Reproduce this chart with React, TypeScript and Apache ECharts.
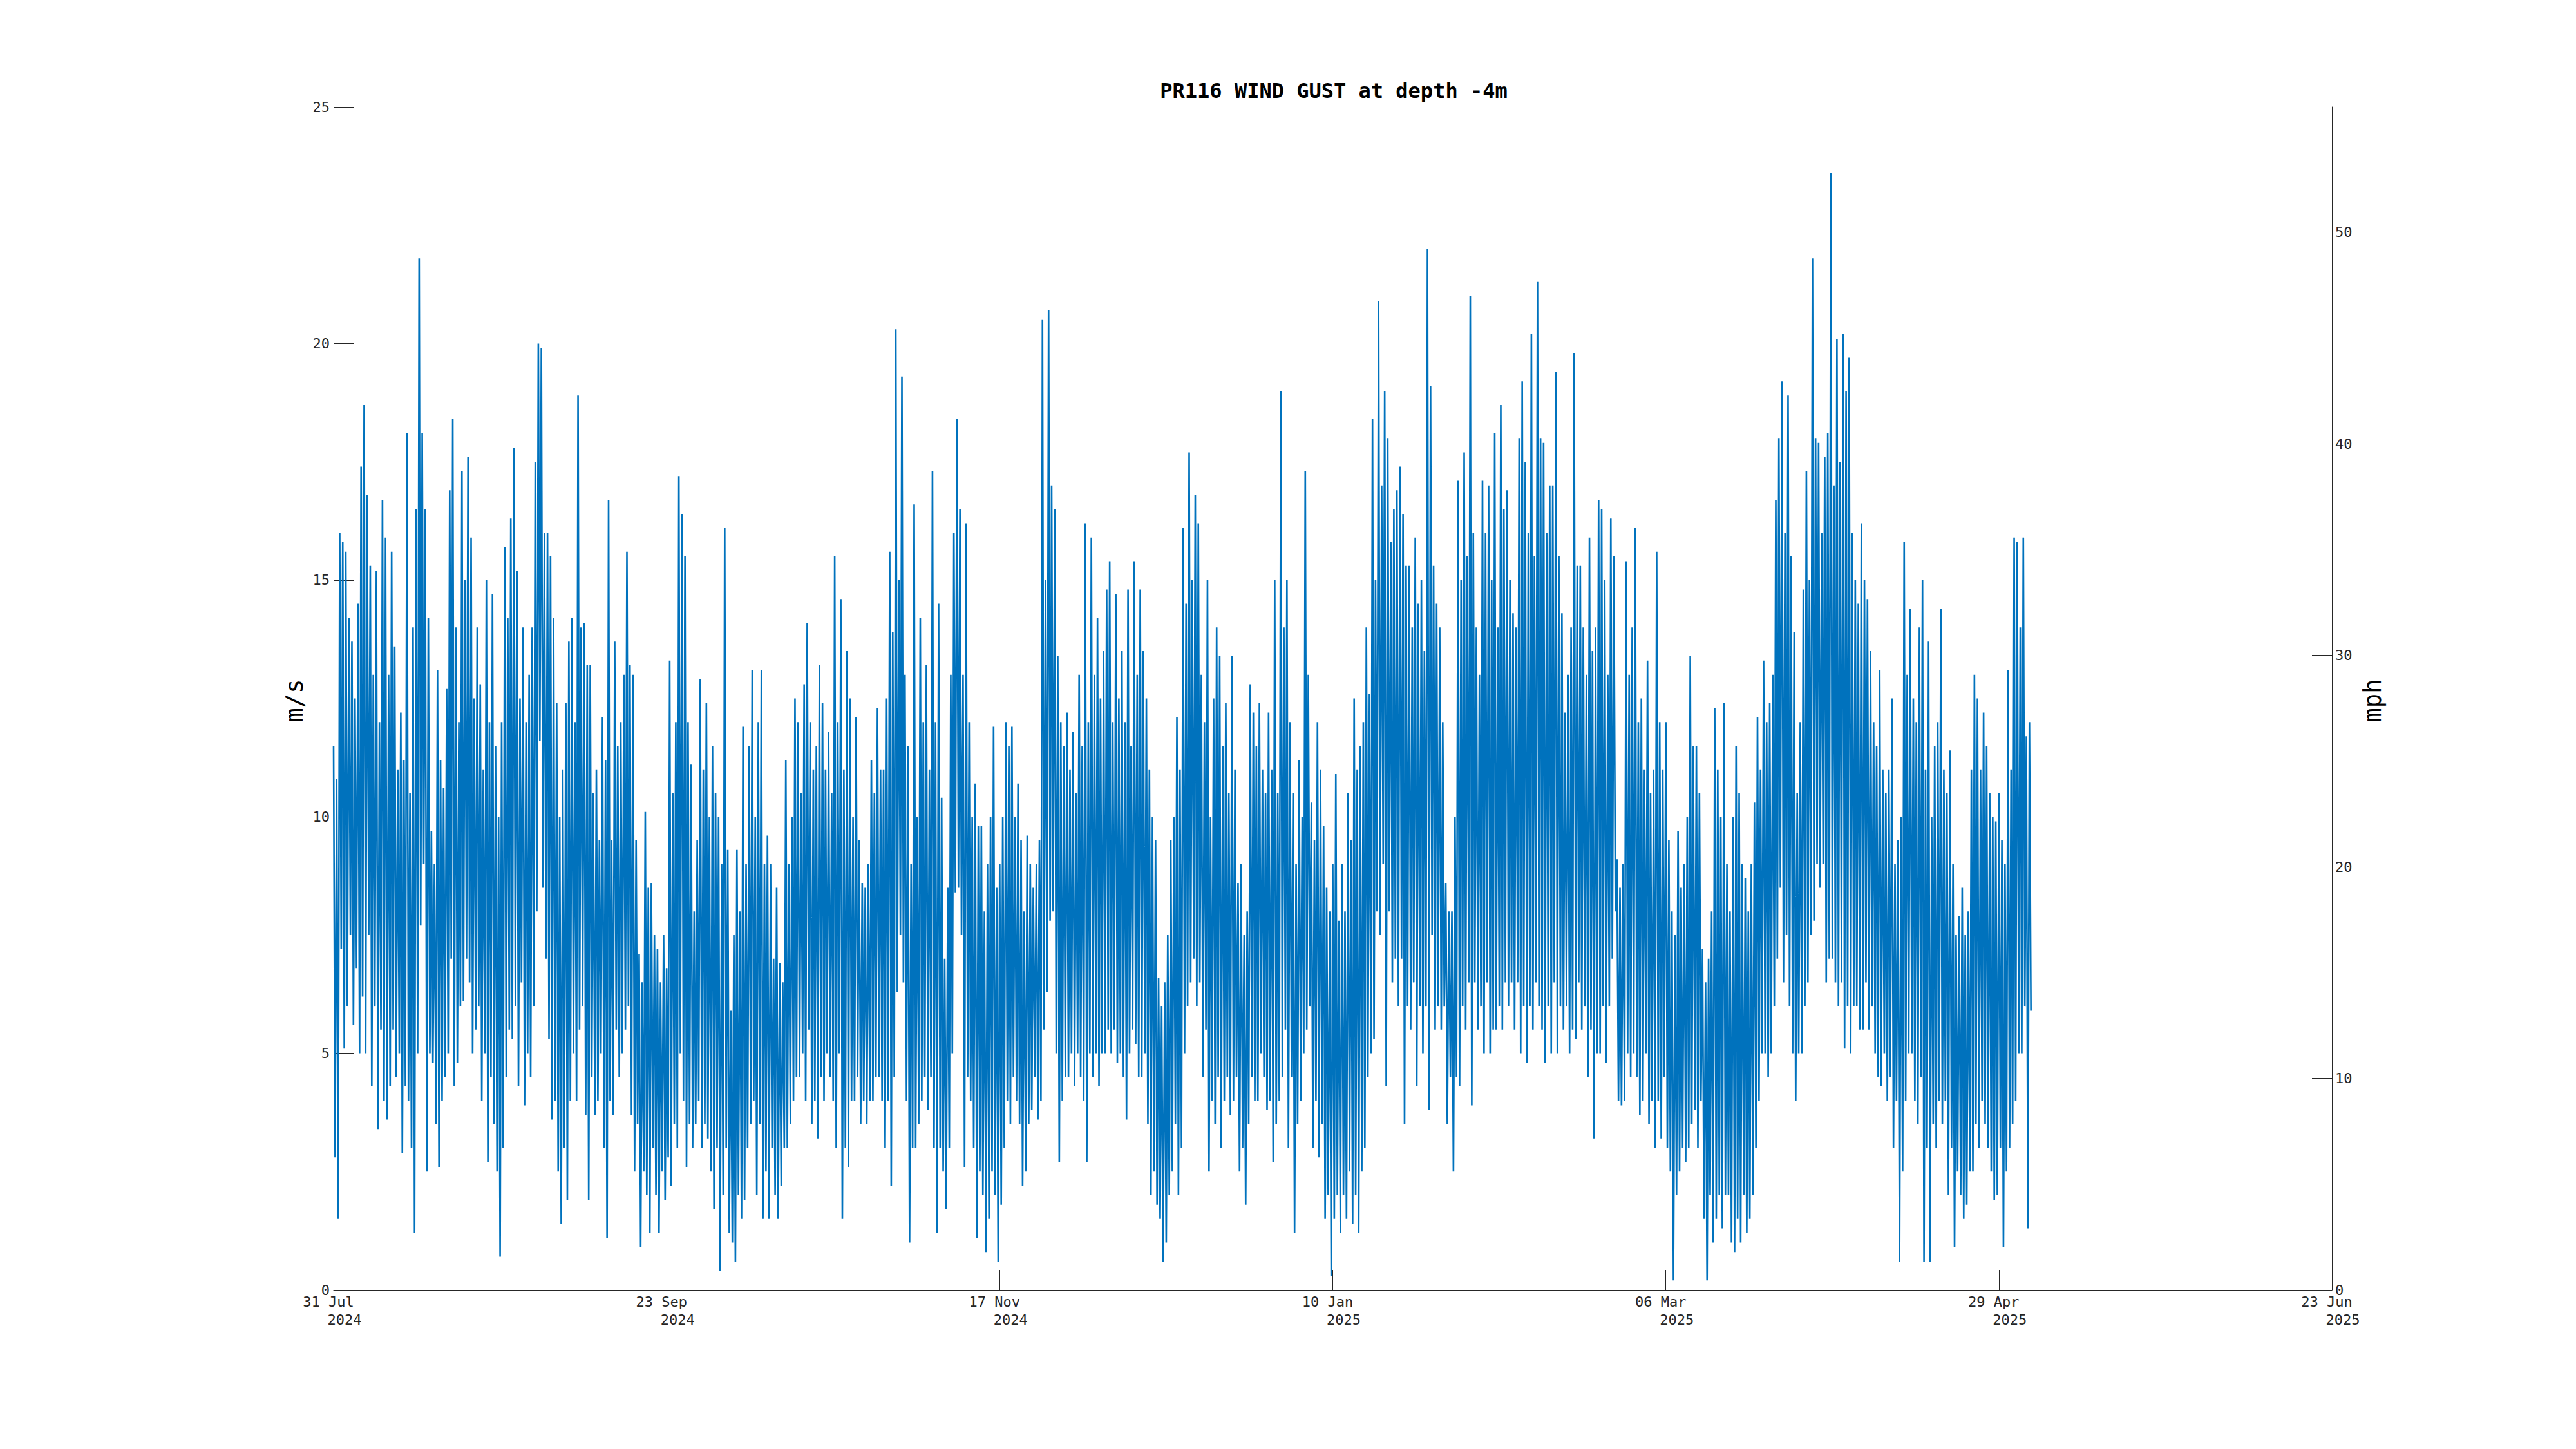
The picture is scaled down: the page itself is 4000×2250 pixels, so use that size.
import React, { useEffect, useRef } from 'react';
import * as echarts from 'echarts';

const FONT = '"DejaVu Sans Mono", monospace';
const AXIS_COLOR = '#262626';
const LINE_COLOR = '#0072BD';

const TITLE = 'PR116 WIND GUST at depth -4m';
const LEFT_NAME = 'm/s';
const RIGHT_NAME = 'mph';

// x axis: days since 31 Jul 2024
const tickDays = [0, 54.5, 109, 163.5, 218, 272.5, 327];
const tickDayMonth = ['31 Jul', '23 Sep', '17 Nov', '10 Jan', '06 Mar', '29 Apr', '23 Jun'];
const tickYear = ['2024', '2024', '2024', '2025', '2025', '2025', '2025'];
const msTicks = [0, 5, 10, 15, 20, 25];
const mphTicks = [0, 10, 20, 30, 40, 50];
const MS_TO_MPH = 2.23694;
const STEP_DAYS = 0.25; // one reading every 6 hours

// wind gust, m/s (4 readings per day)
const gustSeg1 = [
  11.5, 2.8, 10.8, 1.5, 16.0, 7.2, 15.8, 5.1, 15.6, 6.0, 14.2, 7.5, 13.7, 5.6, 12.5, 6.8,
  14.5, 5.0, 17.4, 6.2, 18.7, 5.0, 16.8, 7.5, 15.3, 4.3, 13.0, 6.0, 15.2, 3.4, 12.0, 5.5,
  16.7, 4.0, 15.9, 3.6, 13.0, 4.3, 15.6, 5.5, 13.6, 4.5, 11.0, 5.0, 12.2, 2.9, 11.2, 4.3,
  18.1, 4.0, 10.5, 3.0, 14.0, 1.2, 16.5, 5.0, 21.8, 7.7, 18.1, 9.0, 16.5, 2.5, 14.2, 5.0,
  9.7, 4.8, 9.0, 3.5, 13.1, 2.6, 11.2, 4.0, 10.6, 4.5, 12.7, 5.0, 16.9, 7.0, 18.4, 4.3,
  14.0, 4.8, 12.0, 6.0, 17.3, 6.1, 15.0, 7.0, 17.6, 6.5, 15.9, 5.0, 12.5, 5.5, 14.0, 6.0,
  12.8, 4.0, 11.0, 5.0, 15.0, 2.7, 12.0, 4.5, 14.7, 3.5, 11.5, 2.5, 10.0, 0.7, 12.0, 3.0,
  15.7, 4.5, 14.2, 5.5, 16.3, 5.3, 17.8, 6.0, 15.2, 4.3, 12.5, 6.5, 14.0, 3.9, 12.0, 5.0,
  13.0, 4.5, 14.0, 6.0, 17.5, 8.0, 20.0, 11.6, 19.9, 8.5, 16.0, 7.0,
];
const gustSeg2 = [
  16.0, 5.3, 15.5, 3.6, 14.2, 4.0, 12.4, 2.5, 10.0, 1.4, 11.0, 3.0, 12.4, 1.9, 13.7, 4.0,
  14.2, 5.0, 12.0, 4.0, 18.9, 5.5, 14.0, 6.0, 14.1, 3.7, 13.2, 1.9, 13.2, 4.5, 10.5, 3.7,
  11.0, 4.0, 9.5, 5.0, 12.1, 3.0, 11.2, 1.1, 16.7, 4.0, 9.5, 3.7, 13.7, 5.5, 11.5, 4.5,
  12.0, 5.0, 13.0, 5.5, 15.6, 6.0, 13.2, 3.7, 13.0, 2.5, 9.5, 3.5, 7.1, 0.9, 6.5, 2.5,
  10.1, 2.0, 8.5, 1.2, 8.6, 3.0, 7.5, 2.0, 7.2, 1.2, 6.5, 2.5, 7.5, 1.9, 6.8, 2.8,
  13.3, 2.2, 10.5, 3.5, 12.0, 3.0, 17.2, 5.0, 16.4, 4.0, 15.5, 2.6, 12.0, 3.5, 11.1, 3.0,
  8.0, 3.5, 9.5, 4.0, 12.9, 3.0, 11.0, 3.5, 12.4, 3.2, 10.0, 2.5, 11.5, 1.7, 10.5, 3.0,
  10.0, 0.4, 9.0, 2.0, 16.1, 3.0, 9.3, 1.2, 5.9, 1.0, 7.5, 0.6, 9.3, 2.0, 8.0, 1.5,
  11.9, 1.9, 9.0, 3.0, 11.5, 3.5, 13.1, 4.0, 10.0, 2.0, 12.0, 3.5,
];
const gustSeg3 = [
  13.1, 1.5, 9.0, 2.5, 9.6, 1.5, 9.0, 3.0, 7.0, 2.0, 8.5, 1.5, 6.9, 2.2, 6.5, 3.0,
  11.2, 3.0, 9.0, 3.5, 10.0, 4.0, 12.5, 4.5, 12.0, 4.5, 10.5, 5.0, 12.8, 4.0, 14.1, 5.5,
  12.0, 3.5, 11.0, 4.0, 11.5, 3.2, 13.2, 4.5, 12.4, 4.0, 11.0, 5.0, 11.8, 4.5, 10.5, 4.0,
  15.5, 3.0, 12.0, 5.0, 14.6, 1.5, 11.0, 3.0, 13.5, 2.6, 12.5, 4.0, 10.0, 4.0, 12.1, 4.5,
  9.5, 3.5, 8.6, 4.0, 8.5, 3.5, 9.0, 4.0, 11.2, 4.0, 10.5, 4.5, 12.3, 4.5, 11.0, 4.0,
  11.0, 3.0, 12.5, 4.0, 15.6, 2.2, 13.9, 4.5, 20.3, 6.3, 15.0, 7.5, 19.3, 6.5, 13.0, 4.0,
  11.5, 1.0, 9.0, 3.0, 16.6, 3.0, 10.0, 3.5, 14.2, 4.0, 12.0, 4.5, 13.2, 3.8, 11.0, 4.5,
  17.3, 3.0, 12.0, 1.2, 14.5, 3.0, 10.4, 2.5, 7.0, 1.7, 8.5, 3.0, 13.0, 5.0, 16.0, 8.4,
  18.4, 8.5, 16.5, 7.5, 13.0, 2.6, 16.2, 4.5, 12.0, 4.0, 10.0, 3.0,
];
const gustSeg4 = [
  10.7, 1.1, 9.8, 2.5, 9.8, 2.0, 8.0, 0.8, 9.0, 1.5, 10.0, 2.5, 11.9, 2.0, 8.5, 0.6,
  9.0, 1.8, 10.0, 3.0, 12.0, 4.0, 11.5, 3.5, 11.9, 4.5, 10.0, 4.0, 10.7, 3.5, 9.5, 2.2,
  8.0, 2.5, 9.6, 3.5, 9.0, 3.8, 8.5, 4.5, 9.0, 3.6, 9.5, 4.0, 20.5, 5.5, 15.0, 6.3,
  20.7, 7.8, 17.0, 8.0, 16.5, 5.0, 13.4, 2.7, 12.0, 4.0, 11.5, 4.5, 12.2, 4.5, 11.0, 5.0,
  11.8, 4.3, 10.5, 5.0, 13.0, 4.5, 11.5, 4.0, 16.2, 2.7, 12.0, 5.0, 15.9, 4.5, 13.0, 5.0,
  14.2, 4.3, 12.5, 5.0, 13.5, 5.0, 14.8, 5.5, 15.4, 5.0, 12.0, 5.5, 14.7, 4.8, 12.5, 5.0,
  13.5, 4.5, 12.0, 3.6, 14.8, 5.0, 11.5, 5.5, 15.4, 5.2, 13.0, 4.5, 14.8, 4.5, 13.5, 5.0,
  12.5, 3.5, 11.0, 2.0, 10.0, 2.5, 9.5, 1.8, 6.6, 1.5, 6.0, 0.6, 6.5, 1.0, 7.5, 2.0,
  9.5, 2.5, 10.0, 3.5, 12.1, 2.0, 11.0, 3.0,
];
const gustSeg5 = [
  16.1, 5.0, 14.5, 6.0, 17.7, 6.5, 15.0, 7.0, 16.8, 6.0, 16.2, 6.5, 13.0, 4.5, 12.0, 5.5,
  15.0, 2.5, 10.0, 4.0, 12.5, 3.5, 14.0, 4.5, 13.4, 3.0, 11.5, 4.0, 12.4, 4.5, 10.5, 3.7,
  13.4, 4.0, 11.0, 4.5, 8.6, 2.5, 9.0, 3.0, 7.5, 1.8, 8.0, 3.5, 12.8, 4.5, 12.2, 4.0,
  11.5, 4.0, 12.4, 5.0, 11.0, 4.5, 10.5, 3.8, 12.2, 4.0, 11.0, 2.7, 15.0, 3.5, 10.5, 4.0,
  19.0, 4.5, 14.0, 5.5, 15.0, 3.0, 12.0, 4.5, 10.5, 1.2, 9.0, 3.5, 11.2, 4.0, 10.0, 5.0,
  17.3, 5.5, 13.0, 6.0, 10.3, 3.0, 9.5, 4.0, 12.0, 2.8, 11.0, 3.5, 9.8, 1.5, 8.5, 2.0,
  8.0, 0.3, 9.0, 1.5, 10.9, 2.0, 7.8, 1.2, 9.0, 2.0, 8.0, 1.5, 10.5, 2.5, 9.5, 1.4,
  12.5, 2.0, 11.0, 1.2, 11.5, 2.5, 12.0, 3.0, 14.0, 4.5, 12.6, 5.0, 18.4, 5.3, 15.0, 8.0,
  20.9, 7.5, 17.0, 9.0, 19.0, 4.3, 18.0, 8.0, 15.8, 6.5, 16.5, 7.0,
];
const gustSeg6 = [
  16.9, 6.0, 17.4, 7.0, 16.4, 3.5, 15.3, 6.0, 15.3, 5.5, 14.0, 6.5, 15.9, 4.3, 14.5, 6.0,
  15.0, 5.0, 13.5, 6.0, 22.0, 3.8, 19.1, 7.5, 15.3, 5.5, 14.5, 6.0, 14.0, 5.5, 12.0, 6.0,
  8.6, 3.5, 8.0, 4.5, 8.0, 2.5, 10.0, 4.5, 17.1, 4.3, 15.0, 6.0, 17.7, 5.5, 15.5, 6.5,
  21.0, 3.9, 16.0, 6.5, 14.0, 5.5, 13.0, 6.0, 17.1, 5.0, 16.0, 6.5, 17.0, 5.0, 15.0, 5.5,
  18.1, 5.5, 14.0, 6.0, 18.7, 5.5, 16.5, 6.5, 16.9, 6.0, 15.0, 6.5, 14.3, 5.5, 14.0, 6.5,
  18.0, 5.0, 19.2, 6.0, 17.5, 4.8, 16.0, 6.0, 20.2, 5.5, 15.5, 6.5, 21.3, 6.0, 18.0, 5.5,
  17.9, 4.8, 16.0, 6.0, 17.0, 5.0, 17.0, 6.5, 19.4, 5.0, 15.5, 6.0, 14.3, 5.5, 12.2, 6.0,
  13.0, 5.0, 14.0, 5.5, 19.8, 5.3, 15.3, 6.5, 15.3, 5.5, 14.0, 6.0, 13.0, 4.5, 15.9, 5.5,
  13.5, 3.2, 14.0, 5.0, 16.7, 5.0, 16.5, 6.0, 15.0, 4.8, 13.0, 6.0,
];
const gustSeg7 = [
  16.3, 7.0, 15.5, 8.0, 9.1, 4.0, 8.5, 3.9, 9.0, 4.0, 15.4, 5.0, 13.0, 4.5, 14.0, 5.0,
  16.1, 4.5, 12.0, 3.7, 12.5, 4.0, 11.0, 5.0, 13.3, 3.5, 10.5, 4.0, 11.0, 3.0, 15.6, 4.0,
  12.0, 3.2, 11.0, 4.5, 12.0, 3.0, 9.5, 2.5, 8.0, 0.2, 7.5, 2.0, 9.7, 2.5, 8.5, 3.0,
  9.0, 2.7, 10.0, 3.0, 13.4, 3.5, 11.5, 3.8, 11.5, 3.0, 10.5, 4.0, 7.2, 1.5, 6.5, 0.2,
  7.0, 2.0, 8.0, 1.0, 12.3, 1.5, 11.0, 2.0, 10.0, 1.3, 12.4, 2.0, 9.0, 2.0, 8.0, 1.0,
  10.0, 0.8, 11.5, 1.5, 10.5, 1.0, 9.0, 2.0, 8.7, 1.2, 8.0, 1.5, 9.0, 2.0, 10.3, 3.0,
  12.1, 4.0, 11.0, 5.0, 13.3, 5.0, 12.0, 4.5, 12.4, 5.0, 13.0, 6.0, 16.7, 7.0, 18.0, 8.5,
  19.2, 6.5, 16.0, 7.5, 18.9, 6.0, 15.5, 5.0, 13.9, 4.0, 10.5, 5.0, 12.0, 5.0, 14.8, 6.0,
  17.3, 6.5, 15.0, 7.5, 21.8, 7.8, 18.0, 9.0, 17.9, 8.5, 16.0, 9.0,
];
const gustSeg8 = [
  17.6, 6.5, 18.1, 7.0, 23.6, 7.0, 17.0, 6.5, 20.1, 6.0, 17.5, 6.5, 20.2, 5.1, 19.0, 6.0,
  19.7, 5.0, 16.0, 6.0, 15.0, 6.0, 14.5, 5.5, 16.2, 5.5, 15.0, 6.5, 14.6, 5.5, 13.5, 6.0,
  12.0, 5.0, 11.5, 4.5, 13.1, 4.3, 11.0, 5.0, 10.5, 4.0, 11.0, 4.5, 12.5, 3.0, 9.0, 4.0,
  9.5, 0.6, 10.0, 2.5, 15.8, 4.0, 13.0, 5.0, 14.4, 5.0, 12.5, 4.0, 12.0, 3.5, 14.0, 4.5,
  15.0, 0.6, 11.0, 3.0, 13.7, 0.6, 10.0, 3.5, 11.5, 3.0, 12.0, 4.0, 14.4, 3.5, 11.0, 4.0,
  10.5, 2.0, 11.4, 3.0, 9.0, 0.9, 7.5, 2.5, 7.9, 2.0, 8.5, 1.5, 7.5, 1.8, 8.0, 2.5,
  11.0, 2.5, 13.0, 3.5, 12.5, 3.0, 11.0, 4.0, 12.2, 3.5, 11.5, 3.0, 10.5, 2.5, 10.0, 1.9,
  9.9, 2.0, 10.5, 3.0, 9.5, 0.9, 9.0, 2.5, 13.1, 3.0, 11.0, 3.5, 15.9, 4.0, 15.8, 5.0,
  14.0, 5.0, 15.9, 6.0, 11.7, 1.3, 12.0, 5.9,
];

const gust = [
  ...gustSeg1, ...gustSeg2, ...gustSeg3, ...gustSeg4,
  ...gustSeg5, ...gustSeg6, ...gustSeg7, ...gustSeg8,
];

export default function App() {
  const ref = useRef<HTMLDivElement>(null);

  useEffect(() => {
    if (!ref.current) return;
    const chart = echarts.init(ref.current, undefined, { renderer: 'svg' });
    const data = gust.map((v, i) => [i * STEP_DAYS, v]);
    const labelBase = { fontFamily: FONT, fontSize: 22, color: AXIS_COLOR };

    chart.setOption({
      animation: false,
      backgroundColor: '#ffffff',
      grid: { left: 518, right: 379, top: 166, bottom: 247, containLabel: false },
      xAxis: {
        type: 'value',
        min: 0,
        max: 327,
        interval: 54.5,
        splitLine: { show: false },
        axisLine: { show: true, onZero: false, lineStyle: { color: AXIS_COLOR, width: 1 } },
        axisTick: {
          show: true,
          inside: true,
          length: 31,
          customValues: tickDays,
          lineStyle: { color: AXIS_COLOR, width: 1 },
        },
        axisLabel: {
          show: true,
          margin: 4,
          customValues: tickDays,
          formatter: (value: number) => {
            const i = tickDays.findIndex((t) => Math.abs(t - value) < 0.01);
            if (i < 0) return '';
            return `{d|${tickDayMonth[i]}}\n{y|${tickYear[i]}}`;
          },
          rich: {
            d: { ...labelBase, lineHeight: 28, padding: [0, 16, 0, 0] },
            y: { ...labelBase, lineHeight: 28, padding: [0, 0, 0, 34] },
          },
        },
      },
      yAxis: [
        {
          type: 'value',
          position: 'left',
          min: 0,
          max: 25,
          interval: 5,
          splitLine: { show: false },
          axisLine: { show: true, lineStyle: { color: AXIS_COLOR, width: 1 } },
          axisTick: {
            show: true,
            inside: true,
            length: 31,
            customValues: msTicks,
            lineStyle: { color: AXIS_COLOR, width: 1 },
          },
          axisLabel: { ...labelBase, margin: 6, customValues: msTicks },
        },
        {
          type: 'value',
          position: 'right',
          min: 0,
          max: 25 * MS_TO_MPH,
          interval: 10,
          splitLine: { show: false },
          axisLine: { show: true, lineStyle: { color: AXIS_COLOR, width: 1 } },
          axisTick: {
            show: true,
            inside: true,
            length: 31,
            customValues: mphTicks,
            lineStyle: { color: AXIS_COLOR, width: 1 },
          },
          axisLabel: { ...labelBase, margin: 5, customValues: mphTicks },
        },
      ],
      series: [
        {
          type: 'line',
          yAxisIndex: 0,
          data,
          showSymbol: false,
          symbol: 'none',
          lineStyle: { color: LINE_COLOR, width: 2.6, join: 'miter', miterLimit: 2 },
          itemStyle: { color: LINE_COLOR },
        },
      ],
      graphic: [
        {
          type: 'text',
          x: 2071,
          y: 141,
          style: {
            text: TITLE,
            fontFamily: FONT,
            fontSize: 32,
            fontWeight: 'bold',
            fill: '#000000',
            align: 'center',
            verticalAlign: 'middle',
          },
        },
        {
          type: 'text',
          x: 457,
          y: 1088,
          rotation: Math.PI / 2,
          style: {
            text: LEFT_NAME,
            fontFamily: FONT,
            fontSize: 37,
            fill: '#000000',
            align: 'center',
            verticalAlign: 'middle',
          },
        },
        {
          type: 'text',
          x: 3684,
          y: 1088,
          rotation: Math.PI / 2,
          style: {
            text: RIGHT_NAME,
            fontFamily: FONT,
            fontSize: 37,
            fill: '#000000',
            align: 'center',
            verticalAlign: 'middle',
          },
        },
      ],
    });

    return () => chart.dispose();
  }, []);

  return (
    <div
      ref={ref}
      style={{ position: 'absolute', left: 0, top: 0, width: 4000, height: 2250 }}
    />
  );
}
